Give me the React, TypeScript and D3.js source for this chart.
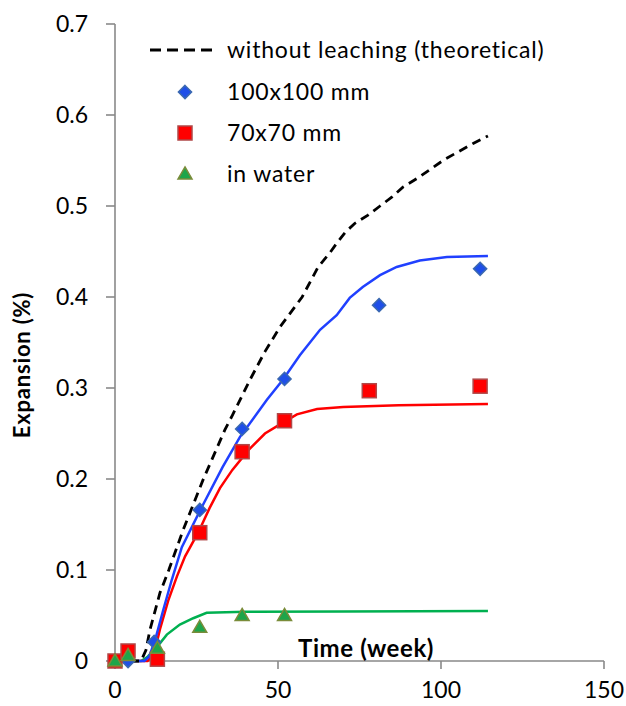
import React from "react";
import * as d3 from "d3";

// Simulated curves
const theoryX = [0, 8, 9.5, 10.7, 13.8, 16.5, 20.9, 27, 33.7, 36, 41.4, 46, 50.6, 57.4, 62.3, 66, 68, 70.6, 73.6, 77.6, 81.3, 85, 88.4, 93, 96.6, 101, 105, 110, 114.4];
const theoryY = [0, 0, 0.012, 0.034, 0.075, 0.1, 0.144, 0.199, 0.254, 0.27, 0.309, 0.34, 0.367, 0.4, 0.433, 0.449, 0.459, 0.471, 0.481, 0.49, 0.5, 0.51, 0.521, 0.531, 0.54, 0.551, 0.559, 0.569, 0.577];

const blueX = [0, 9, 10.5, 12.3, 14.8, 17.4, 20.5, 26.6, 33, 38.3, 46.6, 51.5, 56.7, 62.9, 68, 72, 76, 81.3, 86.4, 93.5, 101.8, 114.4];
const blueY = [0, 0, 0.005, 0.023, 0.056, 0.089, 0.125, 0.169, 0.213, 0.246, 0.287, 0.309, 0.336, 0.364, 0.38, 0.399, 0.411, 0.424, 0.433, 0.44, 0.444, 0.445];

const redX = [0, 10, 12, 13.8, 16.3, 19, 21.5, 25.5, 29, 32.2, 36, 41, 46, 51.5, 55.8, 62, 70, 87, 114.4];
const redY = [0, 0, 0.008, 0.035, 0.066, 0.093, 0.115, 0.141, 0.168, 0.19, 0.21, 0.232, 0.25, 0.262, 0.271, 0.277, 0.279, 0.281, 0.2825];

const greenX = [0, 8, 9.8, 12.8, 15.9, 19.9, 24, 28.1, 40, 70, 114.4];
const greenY = [0, 0, 0.004, 0.015, 0.029, 0.04, 0.047, 0.053, 0.054, 0.0545, 0.055];

// Measured points
const diamondX = [0, 4, 12, 26, 39, 52, 81, 112];
const diamondY = [0, 0, 0.021, 0.166, 0.255, 0.31, 0.391, 0.431];
const squareX = [0, 4, 13, 26, 39, 52, 78, 112];
const squareY = [0, 0.011, 0.002, 0.141, 0.23, 0.264, 0.297, 0.302];
const triangleX = [0, 4, 13, 26, 39, 52];
const triangleY = [0, 0.006, 0.014, 0.037, 0.05, 0.05];

const xTicks = [0, 50, 100, 150];
const yTicks = [0, 0.1, 0.2, 0.3, 0.4, 0.5, 0.6, 0.7];
const legendLabels = ["without leaching (theoretical)", "100x100 mm", "70x70 mm", "in water"];

const W = 626, H = 706;
const FONT = "Lato, 'Open Sans', sans-serif";
const AXIS = "#898989";

export default function App() {
  const x = d3.scaleLinear().domain([0, 150]).range([115, 604]);
  const y = d3.scaleLinear().domain([0, 0.7]).range([661, 24]);
  const line = (xs: number[], ys: number[]) =>
    d3.line<number>().x((_, i) => x(xs[i])).y((_, i) => y(ys[i]))(xs) || "";

  const diamond = d3.symbol().type(d3.symbolDiamond2).size(110)() || "";
  const tri = d3.symbol().type(d3.symbolTriangle2).size(140)() || "";

  const legendRows = [50, 92, 133, 174];
  const lx = 185;

  return (
    <svg width={W} height={H} style={{ position: "absolute", left: 0, top: 0 }} fontFamily={FONT}>
      <rect width={W} height={H} fill="#fff" />
      {/* axes */}
      <line x1={x(0)} x2={x(0)} y1={y(0.7)} y2={y(0)} stroke={AXIS} strokeWidth={1.6} />
      <line x1={x(0)} x2={x(150)} y1={y(0)} y2={y(0)} stroke={AXIS} strokeWidth={1.6} />
      {yTicks.map((t) => (
        <g key={"y" + t}>
          <line x1={x(0) - 9} x2={x(0)} y1={y(t)} y2={y(t)} stroke={AXIS} strokeWidth={1.6} />
          <text x={88} y={y(t)} dy="0.35em" textAnchor="end" fontSize={23} fill="#000">{t === 0 ? "0" : t.toFixed(1)}</text>
        </g>
      ))}
      {xTicks.map((t) => (
        <g key={"x" + t}>
          <line x1={x(t)} x2={x(t)} y1={y(0)} y2={y(0) + 8} stroke={AXIS} strokeWidth={1.6} />
          <text x={x(t)} y={698} textAnchor="middle" fontSize={23} fill="#000">{t}</text>
        </g>
      ))}
      <text x={366} y={657} textAnchor="middle" fontSize={24} fontWeight="bold" letterSpacing={0.6} fill="#000">Time (week)</text>
      <text transform="translate(30,365) rotate(-90)" textAnchor="middle" fontSize={22} fontWeight="bold" letterSpacing={0.8} fill="#000">Expansion (%)</text>

      {/* curves */}
      <path d={line(greenX, greenY)} fill="none" stroke="#00B050" strokeWidth={2.5} />
      <path d={line(redX, redY)} fill="none" stroke="#FF0000" strokeWidth={2.5} />
      <path d={line(blueX, blueY)} fill="none" stroke="#2040FF" strokeWidth={2.5} />
      <path d={line(theoryX, theoryY)} fill="none" stroke="#000" strokeWidth={2.8} strokeDasharray="9,6" />

      {/* markers */}
      {diamondX.map((v, i) => (
        <path key={"d" + i} d={diamond} transform={`translate(${x(v)},${y(diamondY[i])})`} fill="#1F4FE8" stroke="#3A68B0" strokeWidth={1.5} />
      ))}
      {squareX.map((v, i) => (
        <rect key={"s" + i} x={x(v) - 7} y={y(squareY[i]) - 7} width={14} height={14} fill="#FF0000" stroke="#B04848" strokeWidth={1.5} />
      ))}
      {triangleX.map((v, i) => (
        <path key={"t" + i} d={tri} transform={`translate(${x(v)},${y(triangleY[i]) + 1})`} fill="#1EA54A" stroke="#7A8C3A" strokeWidth={1.5} />
      ))}

      {/* legend */}
      <line x1={150} x2={214} y1={legendRows[0]} y2={legendRows[0]} stroke="#000" strokeWidth={2.8} strokeDasharray="11,6" />
      <path d={diamond} transform={`translate(${lx},${legendRows[1]})`} fill="#1F4FE8" stroke="#3A68B0" strokeWidth={1.5} />
      <rect x={lx - 7} y={legendRows[2] - 7} width={14} height={14} fill="#FF0000" stroke="#B04848" strokeWidth={1.5} />
      <path d={tri} transform={`translate(${lx},${legendRows[3] + 1})`} fill="#1EA54A" stroke="#7A8C3A" strokeWidth={1.5} />
      {legendLabels.map((l, i) => (
        <text key={l} x={227} y={legendRows[i]} dy="0.36em" fontSize={23} letterSpacing={0.8} fill="#000">{l}</text>
      ))}
    </svg>
  );
}
